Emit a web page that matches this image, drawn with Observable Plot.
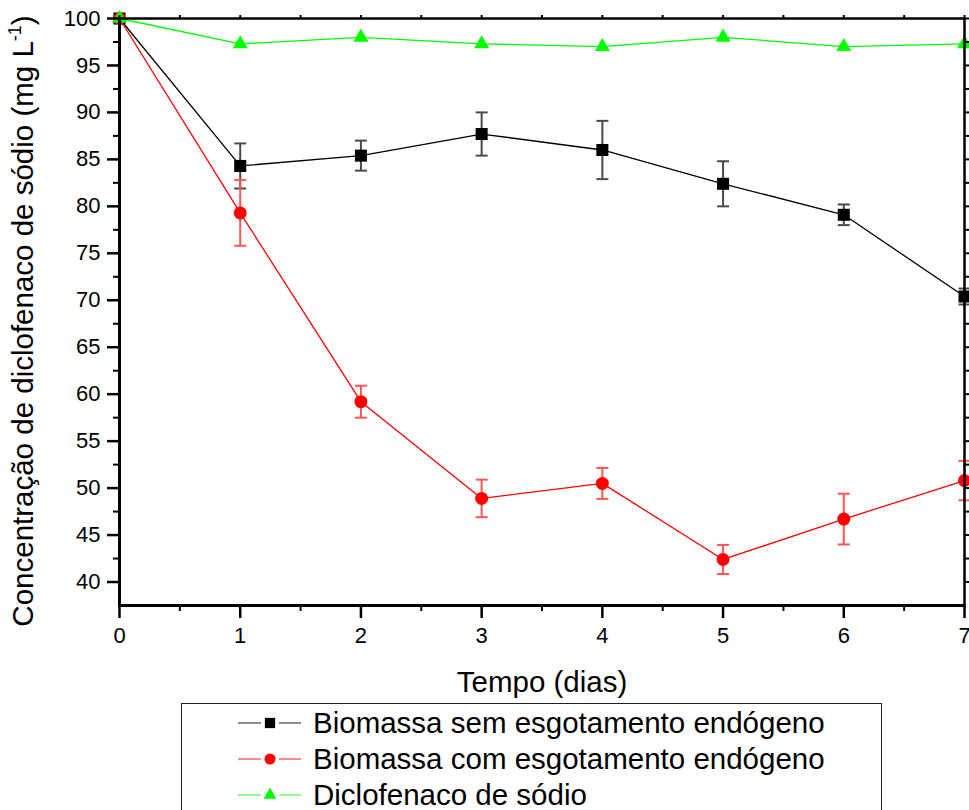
<!DOCTYPE html>
<html><head><meta charset="utf-8">
<script src="https://cdn.jsdelivr.net/npm/d3@7"></script>
<script src="https://cdn.jsdelivr.net/npm/@observablehq/plot@0.6"></script>
<style>
body{margin:0;background:#fff;overflow:hidden;font-family:"Liberation Sans",Arial,sans-serif;}
#wrap{position:relative;width:969px;height:810px;overflow:hidden;}
#legend{position:absolute;left:181px;top:703px;width:701px;height:140px;border:1.5px solid #222;box-sizing:border-box;padding-top:1px;}
.row{display:flex;align-items:center;height:36px;font-size:29.5px;color:#000;white-space:nowrap;}
.row svg{flex:none;}
</style></head><body><div id="wrap"><div id="legend"></div></div>
<script>
// ---- data ----
const days = [0, 1, 2, 3, 4, 5, 6, 7];
const semMean = [100, 84.3, 85.4, 87.7, 86.0, 82.4, 79.1, 70.4];
const semErr  = [0, 2.4, 1.6, 2.3, 3.1, 2.4, 1.1, 0.85];
const comMean = [100, 79.3, 59.2, 48.9, 50.5, 42.4, 46.7, 50.8];
const comErr  = [0, 3.5, 1.7, 2.0, 1.65, 1.55, 2.7, 2.1];
const dicloMean = [100, 97.3, 98.0, 97.3, 97.0, 98.0, 97.0, 97.3];
const seriesNames = ["Biomassa sem esgotamento endógeno", "Biomassa com esgotamento endógeno", "Diclofenaco de sódio"];
const seriesColors = ["#000000", "#ff0000", "#00ff00"];
const errColors = ["#4a4a4a", "#ff5555", "#00ff00"];
const seriesSymbols = ["square", "circle", "triangle"];
const yTicks = d3.range(40, 101, 5);
const yMinor = d3.range(42.5, 100, 5);
const xTicks = d3.range(0, 8, 1);
const xMinor = d3.range(0.5, 7, 1);
const xDomain = [0, 7];
const yDomain = [37.5, 100];
const xLabel = "Tempo (dias)";
const yLabel = "Concentração de diclofenaco de sódio (mg L";
const yLabelSup = "-1";

const means = [semMean, comMean, dicloMean];
const errs = [semErr, comErr, null];
const rows = [];
means.forEach((m, s) => days.forEach((d, i) => rows.push({
  series: seriesNames[s], s, day: d, v: m[i], e: errs[s] ? errs[s][i] : 0
})));

const capSymbol = {draw(ctx, size) { const w = Math.sqrt(size / Math.PI); ctx.moveTo(-w, 0); ctx.lineTo(w, 0); }};
const symR = {square: 6.8, circle: 6.5, triangle: 5.6};

const marks = [];
[0, 1, 2].forEach(s => {
  const data = rows.filter(r => r.s === s);
  marks.push(Plot.line(data, {x: "day", y: "v", stroke: seriesColors[s], strokeWidth: 1.3}));
});
[0, 1].forEach(s => {
  const data = rows.filter(r => r.s === s && r.e > 0);
  marks.push(Plot.ruleX(data, {x: "day", y1: d => d.v - d.e, y2: d => d.v + d.e, stroke: errColors[s], strokeWidth: 2}));
  marks.push(Plot.dot(data, {x: "day", y: d => d.v - d.e, symbol: capSymbol, r: 6, stroke: errColors[s], strokeWidth: 2, fill: "none"}));
  marks.push(Plot.dot(data, {x: "day", y: d => d.v + d.e, symbol: capSymbol, r: 6, stroke: errColors[s], strokeWidth: 2, fill: "none"}));
});
[0, 1, 2].forEach(s => {
  const data = rows.filter(r => r.s === s);
  marks.push(Plot.dot(data, {x: "day", y: "v", symbol: seriesSymbols[s], r: symR[seriesSymbols[s]], fill: seriesColors[s], stroke: "none"}));
});

const chart = Plot.plot({
  width: 969, height: 705,
  marginLeft: 119, marginRight: 5, marginTop: 18, marginBottom: 100,
  style: {fontFamily: '"Liberation Sans", Arial, sans-serif', color: "#000", background: "#fff", overflow: "hidden"},
  x: {domain: xDomain},
  y: {domain: yDomain},
  marks: [
    ...marks,
    Plot.frame({stroke: "#000", strokeWidth: 2.5}),
    Plot.ruleX([xDomain[0]], {stroke: "#000", strokeWidth: 3}),
    Plot.ruleY([yDomain[0]], {stroke: "#000", strokeWidth: 3}),
    Plot.axisY(yTicks, {tickSize: 12, tickPadding: 7, fontSize: 22, strokeWidth: 2.5, tickFormat: d3.format("d"), label: yLabel, labelAnchor: "center", labelArrow: "none", labelOffset: 107}),
    Plot.axisY(yMinor, {tickSize: 6, strokeWidth: 2, text: null, label: null}),
    Plot.axisY(yTicks.concat(yMinor), {anchor: "right", tickSize: 5, strokeWidth: 2, text: null, label: null}),
    Plot.axisX(xTicks, {tickSize: 13, tickPadding: 9, fontSize: 22, strokeWidth: 2.5, tickFormat: d3.format("d"), label: xLabel, labelAnchor: "center", labelArrow: "none", labelOffset: 86}),
    Plot.axisX(xMinor, {tickSize: 6, strokeWidth: 2, text: null, label: null}),
    Plot.axisX(xTicks.concat(xMinor), {anchor: "top", tickSize: 4, strokeWidth: 2, text: null, label: null})
  ]
});
document.getElementById("wrap").prepend(chart);

// axis label styling (font size + superscript)
const svg = d3.select(chart.tagName.toLowerCase() === "svg" ? chart : chart.querySelector("svg"));
const yl = svg.select('g[aria-label="y-axis label"] text');
if (!yl.empty()) {
  yl.attr("font-size", 29.5).attr("dx", -9).text(yLabel);
  yl.append("tspan").attr("font-size", 18).attr("dy", -12).text(yLabelSup);
  yl.append("tspan").attr("font-size", 29.5).attr("dy", 12).text(")");
}
const xl = svg.select('g[aria-label="x-axis label"] text');
if (!xl.empty()) xl.attr("font-size", 29.5).text(xLabel);

// legend
const legend = d3.select("#legend");
seriesNames.forEach((name, s) => {
  const row = legend.append("div").attr("class", "row");
  const sw = row.append("svg").attr("width", 131).attr("height", 36);
  sw.append("line").attr("x1", 56).attr("x2", 79).attr("y1", 18).attr("y2", 18).attr("stroke", seriesColors[s]).attr("stroke-opacity", 0.6).attr("stroke-width", 1.5);
  sw.append("line").attr("x1", 97).attr("x2", 119).attr("y1", 18).attr("y2", 18).attr("stroke", seriesColors[s]).attr("stroke-opacity", 0.6).attr("stroke-width", 1.5);
  const type = {square: d3.symbolSquare, circle: d3.symbolCircle, triangle: d3.symbolTriangle}[seriesSymbols[s]];
  const r = symR[seriesSymbols[s]] * 0.85;
  sw.append("path").attr("transform", "translate(88,18)").attr("d", d3.symbol(type, r * r * Math.PI)()).attr("fill", seriesColors[s]);
  row.append("span").text(name);
});
</script>
</body></html>
